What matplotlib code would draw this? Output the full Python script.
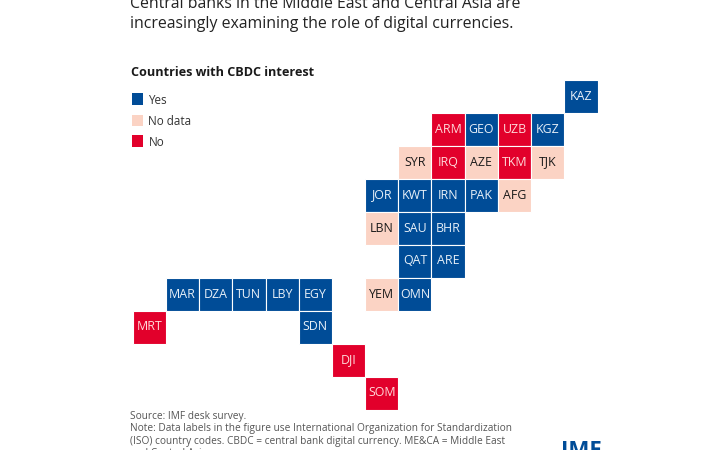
import matplotlib
matplotlib.use('Agg')
import matplotlib.pyplot as plt
from matplotlib.patches import Rectangle

plt.rcParams['font.family'] = ['Open Sans', 'DejaVu Sans']

codes = ['KAZ',
         'ARM', 'GEO', 'UZB', 'KGZ',
         'SYR', 'IRQ', 'AZE', 'TKM', 'TJK',
         'JOR', 'KWT', 'IRN', 'PAK', 'AFG',
         'LBN', 'SAU', 'BHR',
         'QAT', 'ARE',
         'MAR', 'DZA', 'TUN', 'LBY', 'EGY', 'YEM', 'OMN',
         'MRT', 'SDN',
         'DJI',
         'SOM']
cols = [13,
        9, 10, 11, 12,
        8, 9, 10, 11, 12,
        7, 8, 9, 10, 11,
        7, 8, 9,
        8, 9,
        1, 2, 3, 4, 5, 7, 8,
        0, 5,
        6,
        7]
rows = [0,
        1, 1, 1, 1,
        2, 2, 2, 2, 2,
        3, 3, 3, 3, 3,
        4, 4, 4,
        5, 5,
        6, 6, 6, 6, 6, 6, 6,
        7, 7,
        8,
        9]
status = ['Yes',
          'No', 'Yes', 'No', 'Yes',
          'No data', 'No', 'No data', 'No', 'No data',
          'Yes', 'Yes', 'Yes', 'Yes', 'No data',
          'No data', 'Yes', 'Yes',
          'Yes', 'Yes',
          'Yes', 'Yes', 'Yes', 'Yes', 'Yes', 'No data', 'Yes',
          'No', 'Yes',
          'No',
          'No']
legend_labels = ['Yes', 'No data', 'No']

title_lines = ['Central banks in the Middle East and Central Asia are',
               'increasingly examining the role of digital currencies.']
subtitle = 'Countries with CBDC interest'
note_lines = ['Source: IMF desk survey.',
              'Note: Data labels in the figure use International Organization for Standardization',
              '(ISO) country codes. CBDC = central bank digital currency. ME&CA = Middle East',
              'and Central Asia.']

fill = {'Yes': '#004c97', 'No data': '#fbd3c4', 'No': '#e2002b'}
ink = {'Yes': '#e8f0f8', 'No data': '#1a1a1a', 'No': '#ffd9d9'}

W, H = 720, 450
fig = plt.figure(figsize=(7.2, 4.5), dpi=100)

# grid axes, placed in pixels
left, top, pitch_x, pitch_y = 132.7, 79.5, 33.2, 33.0
ax = fig.add_axes([left / W, 1 - (top + 10 * pitch_y) / H, 14 * pitch_x / W, 10 * pitch_y / H])
ax.set_xlim(0, 14)
ax.set_ylim(10, 0)
ax.axis('off')

for code, c, r, s in zip(codes, cols, rows, status):
    ax.add_patch(Rectangle((c, r), 1, 1, facecolor=fill[s], edgecolor='white', linewidth=0.8))
    ax.text(c + 0.5, r + 0.5, code, color=ink[s], ha='center', va='center', fontsize=8.9)


def px(x, y):
    return x / W, 1 - y / H


for line, y in zip(title_lines, [4.5, 24.5]):
    fig.text(*px(130, y), line, fontsize=11.4, color='#222222', va='center')

fig.text(*px(131, 72), subtitle, fontsize=9.1, fontweight='bold', color='#1a1a1a', va='center')

# legend
for label, y in zip(legend_labels, [99, 120, 141]):
    fig.patches.append(Rectangle(px(132, y + 5.5), 11 / W, 11 / H, transform=fig.transFigure,
                                 facecolor=fill[label], edgecolor='none'))
    fig.text(*px(148.5, y + 1), label, fontsize=8.4, color='#333333', va='center')

for line, y in zip(note_lines, [416.5, 428.5, 441.5, 453.5]):
    fig.text(*px(130, y), line, fontsize=7.3, color='#555555', va='center')

fig.text(*px(561, 451), 'IMF', fontsize=16, fontweight='bold', color='#004c97', va='center')

fig.savefig('out.png', dpi=100)
